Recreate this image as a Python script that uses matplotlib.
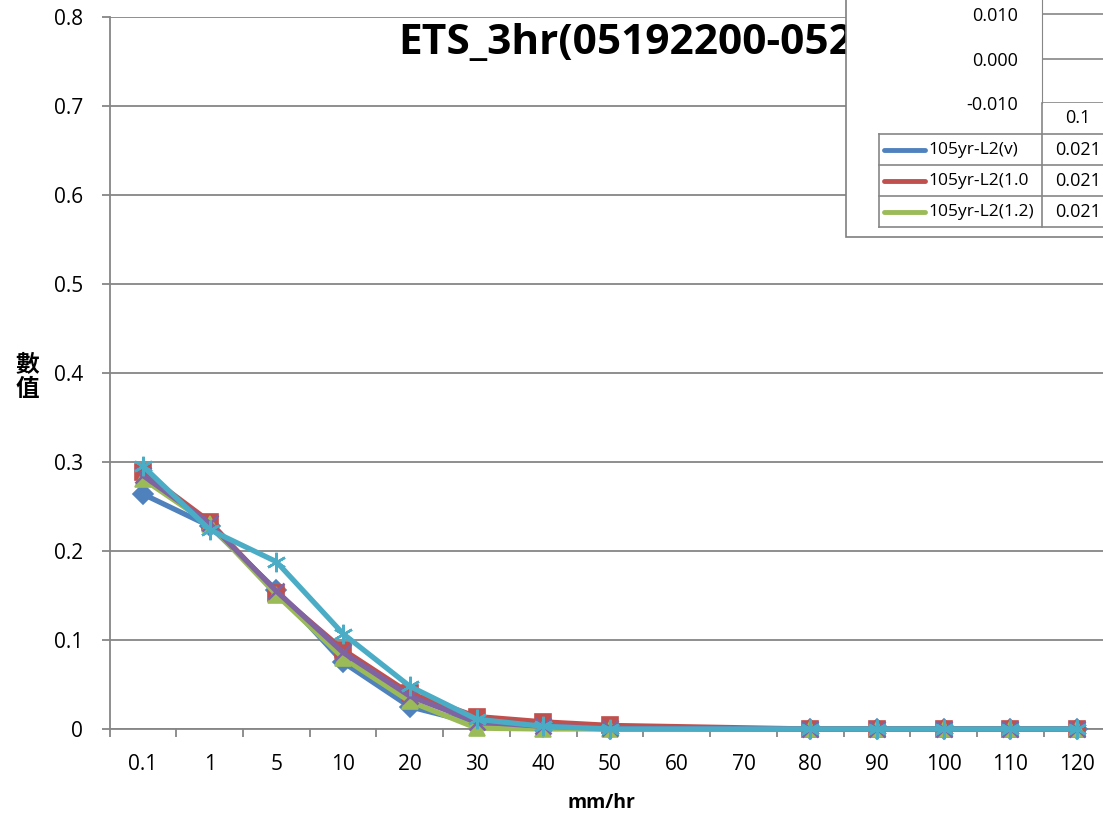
import numpy as np
import matplotlib
matplotlib.use("Agg")
import matplotlib.pyplot as plt
from matplotlib.patches import Rectangle

# data
categories = ["0.1", "1", "5", "10", "20", "30", "40", "50", "60", "70",
              "80", "90", "100", "110", "120"]
nan = np.nan
s_blue = [0.264, 0.228, 0.156, 0.075, 0.025, 0.006, 0.002, 0.000, nan, nan, 0, 0, 0, 0, 0]
s_red = [0.289, 0.233, 0.153, 0.089, 0.040, 0.014, 0.008, 0.004, nan, nan, 0, 0, 0, 0, 0]
s_green = [0.281, 0.230, 0.151, 0.080, 0.031, 0.001, 0.000, 0.000, nan, nan, 0, 0, 0, 0, 0]
s_purple = [0.285, 0.231, 0.155, 0.086, 0.037, 0.008, 0.003, 0.001, nan, nan, 0, 0, 0, 0, 0]
s_cyan = [0.2955, 0.224, 0.188, 0.107, 0.048, 0.011, 0.003, 0.000, nan, nan, 0, 0, 0, 0, 0]

series_names = ["105yr-L2(v)", "105yr-L2(1.0", "105yr-L2(1.2)"]
table_values = ["0.021", "0.021", "0.021"]
mini_ticks = [0.010, 0.000, -0.010]

colors = ["#4F81BD", "#C0504D", "#9BBB59", "#8064A2", "#4BACC6"]
markers = ["D", "s", "^", "x", (6, 2, 0)]
sizes = [10, 12, 12, 11, 14]
grid_c = "#868686"
FONT = "Open Sans"

W, H = 1103, 817
fig = plt.figure(figsize=(W / 100, H / 100), dpi=100)

def fx(px):
    return px / W

def fy(py):
    return 1 - py / H

# main plot area: left edge 109px, 0 at y=729, 0.8 at y=17
ax = fig.add_axes([fx(109.5), fy(729), fx(1110.5) - fx(109.5), fy(17) - fy(729)])
x = np.arange(len(categories))
all_series = [s_blue, s_red, s_green, s_purple, s_cyan]
for vals, c, m, ms in zip(all_series, colors, markers, sizes):
    v = np.array(vals, dtype=float)
    ok = ~np.isnan(v)
    ax.plot(x[ok], v[ok], color=c, lw=3.8, marker=m, markersize=ms,
            markeredgecolor=c, markeredgewidth=1.2 if m in ("D", "s", "^") else 1.8,
            zorder=3, clip_on=False, solid_joinstyle="round")

ax.set_xlim(-0.5, len(categories) - 0.5)
ax.set_ylim(0, 0.8)
ax.set_yticks(np.arange(0, 0.81, 0.1))
ax.set_yticklabels(["0"] + ["%.1f" % t for t in np.arange(0.1, 0.81, 0.1)])
ax.set_xticks(x)
ax.set_xticklabels(categories)
ax.set_xticks(np.arange(-0.5, len(categories), 1), minor=True)
ax.grid(True, axis="y", color=grid_c, lw=1.3)
ax.set_axisbelow(True)
for sp in ["top", "right"]:
    ax.spines[sp].set_visible(False)
for sp in ["left", "bottom"]:
    ax.spines[sp].set_color(grid_c)
    ax.spines[sp].set_linewidth(1.3)
ax.tick_params(axis="y", length=6, width=1.3, color=grid_c, pad=13, labelsize=15)
ax.tick_params(axis="x", which="major", length=0, pad=18, labelsize=15)
ax.tick_params(axis="x", which="minor", length=6, width=1.3, color=grid_c)
for lab in ax.get_xticklabels() + ax.get_yticklabels():
    lab.set_fontfamily(FONT)

fig.text(fx(601), fy(803), "mm/hr", ha="center", va="center",
         fontsize=14, fontweight="bold", family=FONT)
fig.text(fx(27), fy(377), "數\n值", ha="center", va="center", fontsize=17,
         fontweight="bold", family=["Noto Sans CJK TC", "DejaVu Sans"],
         linespacing=1.0)
fig.text(fx(398), fy(54), "ETS_3hr(05192200-052", ha="left", va="baseline",
         fontsize=30.5, fontweight="bold", family=FONT)

# overlapping chart (top right), drawn in pixel coordinates
ov = fig.add_axes([0, 0, 1, 1], zorder=5)
ov.set_xlim(0, W)
ov.set_ylim(H, 0)
ov.axis("off")
ov.add_patch(Rectangle((846, -5), 300, 242, facecolor="white",
                       edgecolor="#7f7f7f", lw=1.2))

mini = fig.add_axes([fx(1042), fy(103), fx(1120) - fx(1042), fy(0) - fy(103)],
                    zorder=6)
mini.set_ylim(-0.010, 0.010 + 0.010 * 14 / 44.5)
mini.set_xlim(0, 1)
mini.set_yticks(mini_ticks)
mini.set_yticklabels(["%.3f" % t for t in mini_ticks])
mini.set_xticks([])
mini.grid(True, axis="y", color=grid_c, lw=1.2)
mini.tick_params(axis="y", length=0, pad=17, labelsize=13)
for lab in mini.get_yticklabels():
    lab.set_fontfamily(FONT)
for sp in ["top", "right", "bottom"]:
    mini.spines[sp].set_visible(False)
mini.spines["left"].set_color(grid_c)
mini.patch.set_alpha(0)

# data table under the small chart
ov.text(1078, 118, "0.1", ha="center", va="center", fontsize=13, family=FONT)
row_y = [134, 165, 196, 227]
ov.plot([1042, 1042], [103, 227], color=grid_c, lw=1.2)
for ry in row_y:
    ov.plot([879, 1110], [ry, ry], color=grid_c, lw=1.2)
ov.plot([879, 879], [134, 227], color=grid_c, lw=1.2)
for i, (name, val) in enumerate(zip(series_names, table_values)):
    cy = (row_y[i] + row_y[i + 1]) / 2
    ov.plot([884, 925], [cy, cy], color=colors[i], lw=3.5, solid_capstyle="round")
    ov.text(928, cy, name, ha="left", va="center", fontsize=12.5, family=FONT)
    ov.text(1078, cy, val, ha="center", va="center", fontsize=13, family=FONT)

fig.savefig("out.png", dpi=100)
